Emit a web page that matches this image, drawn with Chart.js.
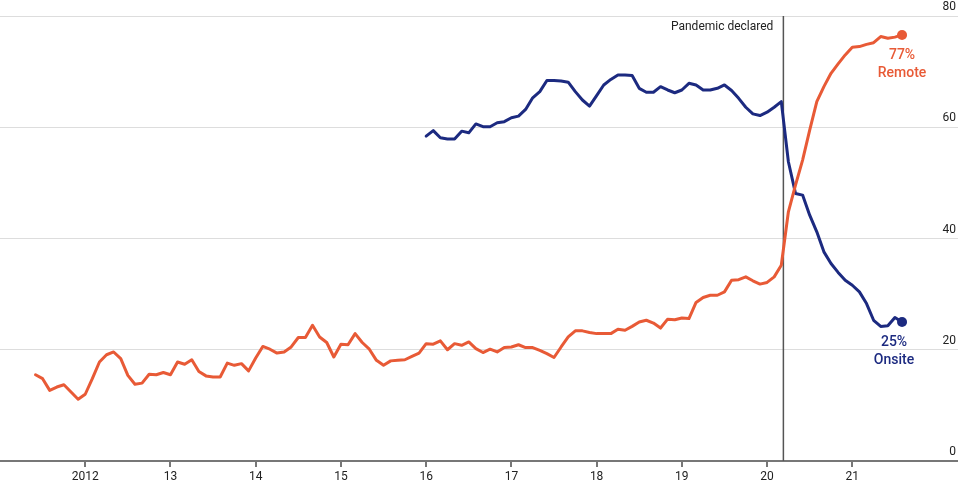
<!DOCTYPE html>
<html><head><meta charset="utf-8">
<script src="https://cdn.jsdelivr.net/npm/chart.js@4"></script>
<style>html,body{margin:0;padding:0;background:#fff}#wrap{width:958px;height:483px}</style>
</head><body><div id="wrap"><canvas id="c" width="958" height="483"></canvas></div>
<script>
// ---- data (monthly shares, %) ----
const remoteStart = [2011, 6];
const remoteValues = [
  15.5, 14.8, 12.7, 13.3, 13.7, 12.4, 11.1,
  12.0, 14.8, 17.8, 19.1, 19.6, 18.4, 15.4, 13.8, 14.0, 15.6, 15.5, 15.9,
  15.5, 17.8, 17.4, 18.2, 16.1, 15.3, 15.1, 15.1, 17.6, 17.2, 17.5, 16.2,
  18.5, 20.6, 20.1, 19.4, 19.6, 20.5, 22.2, 22.2, 24.4, 22.3, 21.3, 18.7,
  21.0, 20.9, 22.9, 21.3, 20.1, 18.1, 17.2, 18.0, 18.1, 18.2, 18.8, 19.4,
  21.1, 21.0, 21.6, 20.0, 21.1, 20.8, 21.4, 20.2, 19.5, 20.1, 19.6, 20.4,
  20.5, 20.9, 20.4, 20.4, 19.9, 19.3, 18.6, 20.5, 22.3, 23.4, 23.4, 23.1,
  22.9, 22.9, 22.9, 23.7, 23.5, 24.2, 25.0, 25.3, 24.8, 23.9, 25.5, 25.4,
  25.7, 25.6, 28.5, 29.4, 29.8, 29.8, 30.4, 32.5, 32.6, 33.1, 32.4, 31.8,
  32.1, 33.1, 35.2, 44.8, 49.6, 54.1, 59.5, 64.6, 67.3, 69.7, 71.4, 73.0,
  74.4, 74.5, 74.9, 75.2, 76.3, 76.0, 76.2, 76.6
];
const onsiteStart = [2016, 1];
const onsiteValues = [
  58.4, 59.4, 58.1, 57.9, 57.9, 59.3, 59.0, 60.6, 60.1, 60.1, 60.8, 61.0,
  61.7, 62.0, 63.2, 65.3, 66.4, 68.4, 68.4, 68.3, 68.1, 66.4, 64.9, 63.8,
  65.7, 67.6, 68.6, 69.4, 69.4, 69.3, 67.0, 66.3, 66.3, 67.3, 66.7, 66.2,
  66.7, 67.9, 67.6, 66.7, 66.7, 67.0, 67.6, 66.6, 65.2, 63.6, 62.4, 62.1,
  62.7, 63.6, 64.6, 53.8, 48.1, 47.8, 44.2, 41.2, 37.6, 35.5, 33.9, 32.5,
  31.6, 30.4, 28.3, 25.3, 24.2, 24.3, 25.8, 25.0
];
const xTickYears = [2012, 2013, 2014, 2015, 2016, 2017, 2018, 2019, 2020, 2021];
const xTickLabels = ['2012', '13', '14', '15', '16', '17', '18', '19', '20', '21'];
const yTickValues = [0, 20, 40, 60, 80];
const pandemicDate = [2020, 3, 11];
const pandemicLabel = 'Pandemic declared';
const remoteEndLabel = ['77%', 'Remote'];
const onsiteEndLabel = ['25%', 'Onsite'];

// ---- helpers ----
const ORANGE = '#e85a36';
const NAVY = '#1c2a80';
const monthToX = (y, m) => y + (m - 1) / 12;
const dateToX = (y, m, d) => {
  const start = Date.UTC(y, 0, 1), end = Date.UTC(y + 1, 0, 1);
  return y + (Date.UTC(y, m - 1, d) - start) / (end - start);
};
function toPoints(start, vals) {
  return vals.map((v, i) => {
    const mIdx = start[1] - 1 + i;
    return { x: monthToX(start[0] + Math.floor(mIdx / 12), (mIdx % 12) + 1), y: v };
  });
}
const lastRadius = (n) => (ctx) => ctx.dataIndex === n - 1 ? 5 : 0;

const annotPlugin = {
  id: 'annot',
  beforeDatasetsDraw(chart) {
    const { ctx, chartArea, scales } = chart;
    const px = scales.x.getPixelForValue(dateToX(pandemicDate[0], pandemicDate[1], pandemicDate[2]));
    ctx.save();
    ctx.strokeStyle = '#555';
    ctx.lineWidth = 1.5;
    ctx.beginPath();
    ctx.moveTo(px, chartArea.top);
    ctx.lineTo(px, chartArea.bottom);
    ctx.stroke();
    ctx.fillStyle = '#222';
    ctx.font = '12px Roboto';
    ctx.textAlign = 'right';
    ctx.textBaseline = 'middle';
    ctx.fillText(pandemicLabel, px - 10, 27);
    ctx.restore();
  },
  afterDatasetsDraw(chart) {
    const { ctx } = chart;
    const specs = [
      { ds: 0, lines: remoteEndLabel, color: ORANGE, dx: 0 },
      { ds: 1, lines: onsiteEndLabel, color: NAVY, dx: -8 }
    ];
    ctx.save();
    ctx.font = '500 14px Roboto';
    ctx.textAlign = 'center';
    ctx.textBaseline = 'middle';
    specs.forEach(s => {
      const meta = chart.getDatasetMeta(s.ds);
      const p = meta.data[meta.data.length - 1];
      ctx.fillStyle = s.color;
      ctx.fillText(s.lines[0], p.x + s.dx, p.y + 21);
      ctx.fillText(s.lines[1], p.x + s.dx, p.y + 39);
    });
    ctx.restore();
  }
};

new Chart(document.getElementById('c'), {
  type: 'line',
  data: {
    datasets: [
      { label: 'Remote', data: toPoints(remoteStart, remoteValues), borderColor: ORANGE, backgroundColor: ORANGE,
        borderWidth: 3, pointRadius: lastRadius(remoteValues.length), pointBackgroundColor: ORANGE, pointBorderWidth: 0,
        tension: 0, borderJoinStyle: 'round', borderCapStyle: 'round' },
      { label: 'Onsite', data: toPoints(onsiteStart, onsiteValues), borderColor: NAVY, backgroundColor: NAVY,
        borderWidth: 3, pointRadius: lastRadius(onsiteValues.length), pointBackgroundColor: NAVY, pointBorderWidth: 0,
        tension: 0, borderJoinStyle: 'round', borderCapStyle: 'round' }
    ]
  },
  options: {
    responsive: false,
    animation: false,
    devicePixelRatio: 1,
    layout: { autoPadding: false, padding: { top: 16, left: 0, right: 0, bottom: 0 } },
    plugins: { legend: { display: false }, tooltip: { enabled: false } },
    scales: {
      x: {
        type: 'linear', min: 2011, max: 2022.24,
        afterBuildTicks: s => { s.ticks = xTickYears.map(v => ({ value: v })); },
        afterFit: s => { s.height = 22; },
        ticks: {
          callback: v => xTickLabels[xTickYears.indexOf(v)],
          font: { family: 'Roboto', size: 12 }, color: '#222', padding: 3,
          maxRotation: 0, autoSkip: false
        },
        grid: { drawOnChartArea: false, drawTicks: true, tickLength: 6, color: '#777', lineWidth: 2 },
        border: { display: true, color: '#777', width: 2 }
      },
      y: {
        position: 'right', min: 0, max: 80,
        afterBuildTicks: s => { s.ticks = yTickValues.map(v => ({ value: v })); },
        afterFit: s => { s.width = 0; },
        ticks: { mirror: true, padding: -2, labelOffset: -9, font: { family: 'Roboto', size: 12 }, color: '#222' },
        grid: { color: '#ddd', lineWidth: 1, drawTicks: false },
        border: { display: false }
      }
    }
  },
  plugins: [annotPlugin]
});
</script>
</body></html>
